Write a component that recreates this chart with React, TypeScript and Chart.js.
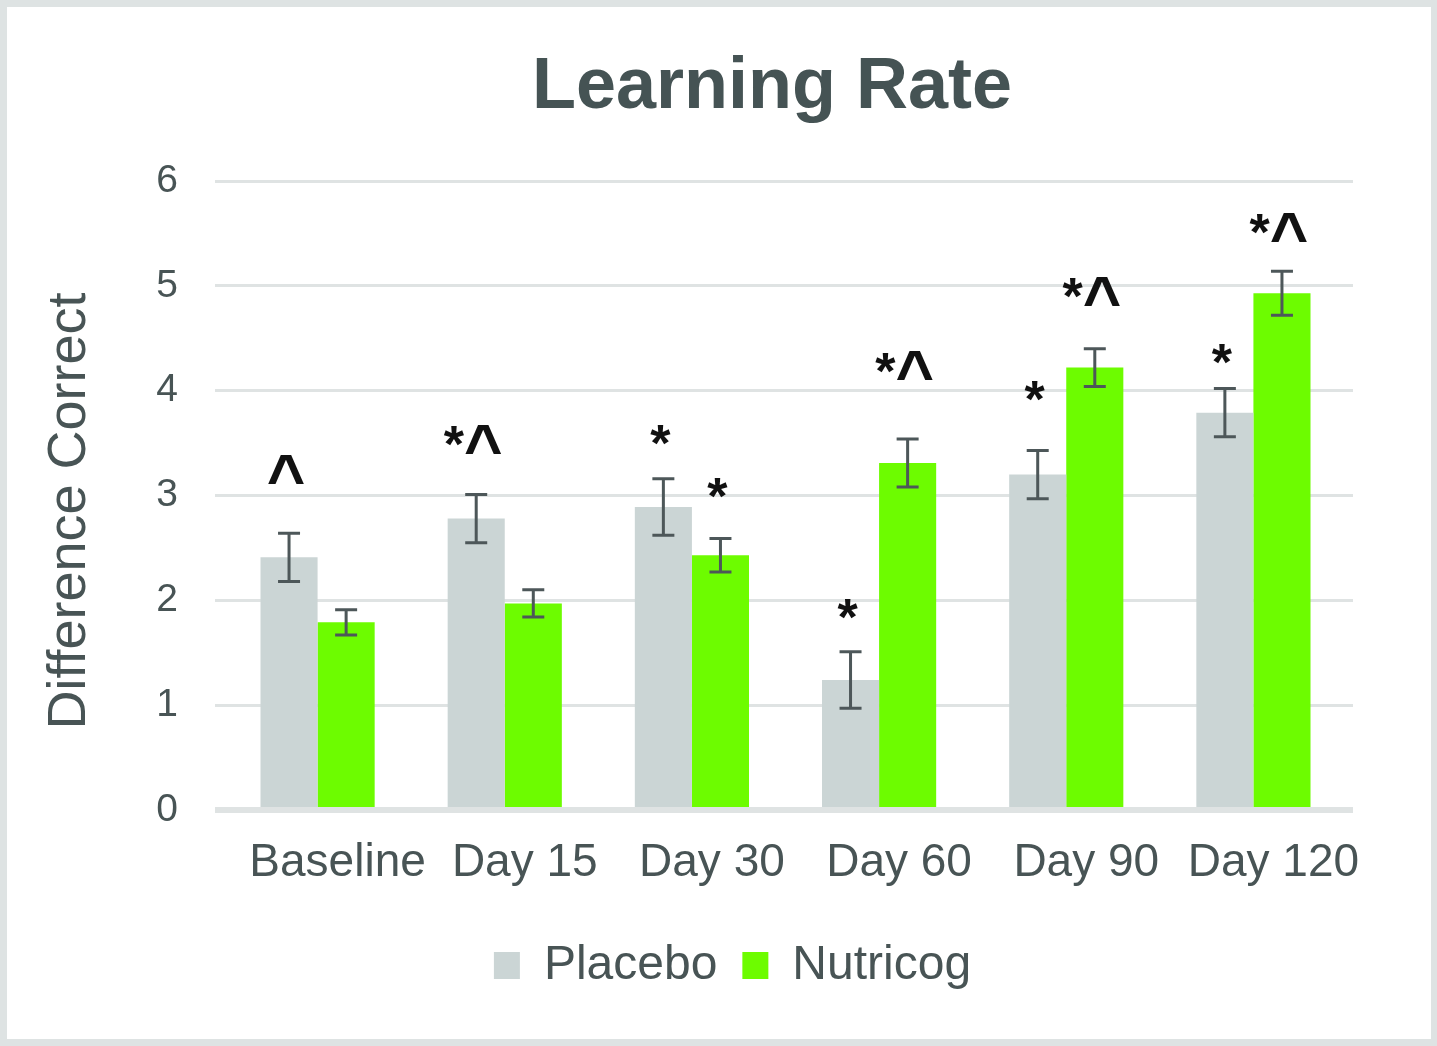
import React, { useEffect, useRef } from "react";
import { Chart, registerables } from "chart.js";

Chart.register(...registerables);

// ---- data ----
const categories = ["Baseline", "Day 15", "Day 30", "Day 60", "Day 90", "Day 120"];
const placebo = [2.41, 2.78, 2.89, 1.24, 3.2, 3.79];
const placeboErr = [0.23, 0.23, 0.27, 0.27, 0.23, 0.23];
const nutricog = [1.79, 1.97, 2.43, 3.31, 4.22, 4.93];
const nutricogErr = [0.12, 0.13, 0.16, 0.23, 0.18, 0.21];
const placeboMarks = ["^", "*^", "*", "*", "*", "*"];
const placeboMarkY = [3.03, 3.32, 3.33, 1.67, 3.75, 4.1];
const nutricogMarks = ["", "", "*", "*^", "*^", "*^"];
const nutricogMarkY = [0, 0, 2.82, 4.02, 4.73, 5.34];
const seriesNames = ["Placebo", "Nutricog"];
const yMin = 0;
const yMax = 6;
const yStep = 1;
const chartTitle = "Learning Rate";
const yTitle = "Difference Correct";

// ---- styles ----
const FONT = "'Liberation Sans', Arial, sans-serif";
const TEXT = "#485455";
const GRID = "#dfe3e3";
const PLACEBO = "#cbd5d5";
const NUTRICOG = "#6dfc00";
const ERR = "#4d5759";

const errors = [placeboErr, nutricogErr];
const marks = [placeboMarks, nutricogMarks];
const markY = [placeboMarkY, nutricogMarkY];

const STAR_FONT = `bold 52px ${FONT}`;
const CARET_FONT = `bold 66px ${FONT}`;

function drawMark(ctx: any, text: string, cx: number, baseline: number) {
  const chars = text.split("");
  const fonts = chars.map((c) => (c === "^" ? CARET_FONT : STAR_FONT));
  const widths = chars.map((c, k) => {
    ctx.font = fonts[k];
    return ctx.measureText(c).width;
  });
  const total = widths.reduce((a, b) => a + b, 0);
  const topLine = baseline - 0.716 * 52;
  let x = cx - total / 2;
  chars.forEach((c, k) => {
    ctx.font = fonts[k];
    let y = baseline;
    if (c === "^") {
      const m = ctx.measureText(c);
      y = topLine + m.actualBoundingBoxAscent;
    }
    ctx.textAlign = "left";
    ctx.fillText(c, x, y);
    x += widths[k];
  });
}

const overlayPlugin = {
  id: "overlay",
  afterDatasetsDraw(chart: any) {
    const ctx = chart.ctx;
    const yScale = chart.scales.y;
    ctx.save();
    // error bars
    chart.data.datasets.forEach((ds: any, i: number) => {
      const meta = chart.getDatasetMeta(i);
      meta.data.forEach((el: any, j: number) => {
        const v = ds.data[j];
        const e = errors[i][j];
        const yHi = yScale.getPixelForValue(v + e);
        const yLo = yScale.getPixelForValue(v - e);
        const x = el.x;
        ctx.strokeStyle = ERR;
        ctx.lineWidth = 3;
        ctx.beginPath();
        ctx.moveTo(x, yHi);
        ctx.lineTo(x, yLo);
        ctx.moveTo(x - 11, yHi);
        ctx.lineTo(x + 11, yHi);
        ctx.moveTo(x - 11, yLo);
        ctx.lineTo(x + 11, yLo);
        ctx.stroke();
      });
    });
    // significance marks
    ctx.fillStyle = "#111111";
    ctx.textBaseline = "alphabetic";
    chart.data.datasets.forEach((_ds: any, i: number) => {
      const meta = chart.getDatasetMeta(i);
      meta.data.forEach((el: any, j: number) => {
        const t = marks[i][j];
        if (!t) return;
        drawMark(ctx, t, el.x - 3, yScale.getPixelForValue(markY[i][j]));
      });
    });
    ctx.restore();
  },
  afterDraw(chart: any) {
    const ctx = chart.ctx;
    ctx.save();
    ctx.fillStyle = "#455354";
    ctx.font = `bold 72px ${FONT}`;
    ctx.textAlign = "center";
    ctx.textBaseline = "alphabetic";
    ctx.fillText(chartTitle, 765, 101);
    ctx.fillStyle = TEXT;
    ctx.font = `54px ${FONT}`;
    ctx.translate(78, 504);
    ctx.rotate(-Math.PI / 2);
    ctx.fillText(yTitle, 0, 0);
    ctx.restore();
  },
};

const gridWidth = (c: any) => (c.tick && c.tick.value === 0 ? 6 : 3);

export default function App() {
  const ref = useRef<HTMLCanvasElement | null>(null);
  useEffect(() => {
    if (!ref.current) return;
    const chart = new Chart(ref.current, {
      type: "bar",
      data: {
        labels: categories,
        datasets: [
          {
            label: seriesNames[0],
            data: placebo,
            backgroundColor: PLACEBO,
            borderWidth: 0,
            categoryPercentage: 0.61,
            barPercentage: 1.0,
          },
          {
            label: seriesNames[1],
            data: nutricog,
            backgroundColor: NUTRICOG,
            borderWidth: 0,
            categoryPercentage: 0.61,
            barPercentage: 1.0,
          },
        ],
      },
      options: {
        responsive: false,
        animation: false,
        devicePixelRatio: 1,
        layout: { padding: { top: 174, left: 105, right: 78, bottom: 39.5 } },
        plugins: {
          title: { display: false },
          tooltip: { enabled: false },
          legend: {
            display: true,
            position: "bottom",
            labels: {
              boxWidth: 26,
              boxHeight: 27,
              padding: 25,
              color: TEXT,
              font: { family: FONT, size: 48 },
            },
          },
        },
        scales: {
          x: {
            grid: { display: false, drawTicks: false, tickLength: 0 },
            border: { display: false },
            ticks: {
              color: TEXT,
              font: { family: FONT, size: 46 },
              padding: 26,
              labelOffset: 20,
              maxRotation: 0,
              autoSkip: false,
            },
            afterFit: (s: any) => {
              s.height = 106.5;
            },
          },
          y: {
            position: "left",
            min: yMin,
            max: yMax,
            grid: {
              color: GRID,
              lineWidth: gridWidth,
              drawTicks: true,
              tickLength: 9,
            },
            border: { display: false },
            ticks: {
              stepSize: yStep,
              color: TEXT,
              font: { family: FONT, size: 39 },
              padding: 37,
            },
            afterFit: (s: any) => {
              s.width = 112;
            },
          },
          y2: {
            position: "right",
            display: true,
            min: yMin,
            max: yMax,
            grid: {
              color: GRID,
              lineWidth: gridWidth,
              drawOnChartArea: false,
              drawTicks: true,
              tickLength: 6,
            },
            border: { display: false },
            ticks: { stepSize: yStep, display: false },
          },
        },
      } as any,
      plugins: [overlayPlugin],
    });
    return () => chart.destroy();
  }, []);

  return (
    <div
      style={{
        position: "fixed",
        left: 0,
        top: 0,
        width: 1437,
        height: 1046,
        boxSizing: "border-box",
        borderStyle: "solid",
        borderColor: "#dee3e3",
        borderWidth: "7px 6px 7px 7px",
        background: "#ffffff",
      }}
    >
      <canvas ref={ref} width={1424} height={1032} style={{ display: "block", width: 1424, height: 1032 }} />
    </div>
  );
}
